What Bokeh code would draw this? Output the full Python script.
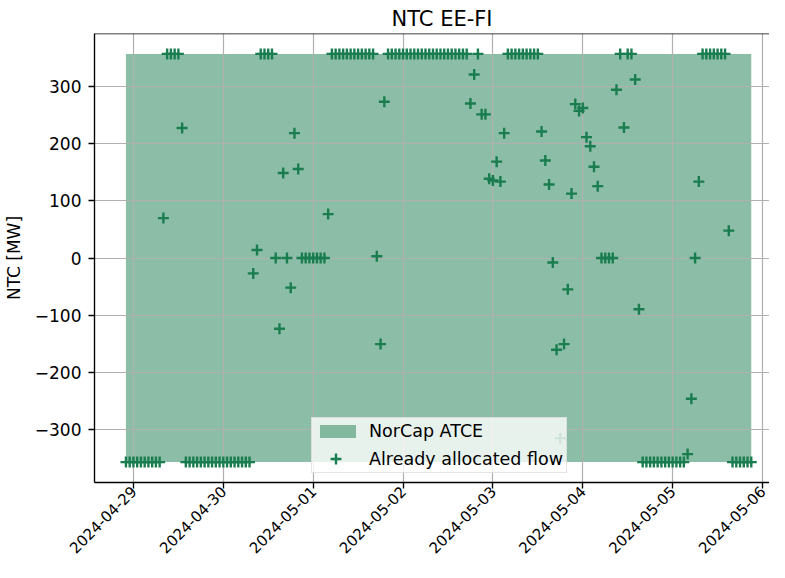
import math
import pandas as pd
from bokeh.plotting import figure
from bokeh.models import (Range1d, FixedTicker, DatetimeTickFormatter, Legend,
                          LegendItem, Span, ColumnDataSource)
from bokeh.embed import file_html
from bokeh.resources import INLINE

# ---------------- data ----------------
first_hour = "2024-04-28 22:00"
n_hours = 168
atce_upper = 358
atce_lower = -358
flow = [
    -358, -358, -358, -358, -358, -358, -358, -358, -358, -358,
    70, 358, 358, 358, 358, 228,
    -358, -358, -358, -358, -358, -358, -358, -358, -358, -358,
    -358, -358, -358, -358, -358, -358, -358, -358,
    -27, 14, 358, 358, 358, 358,
    0, -124, 149, 0, -52, 219, 156,
    0, 0, 0, 0, 0, 0, 0,
    77,
    358, 358, 358, 358, 358, 358, 358, 358, 358, 358, 358, 358,
    3, -151, 274,
    358, 358, 358, 358, 358, 358, 358, 358, 358, 358, 358,
    358, 358, 358, 358, 358, 358, 358, 358, 358, 358, 358,
    271, 322, 358, 252, 252, 139, 136, 169, 134, 219,
    358, 358, 358, 358, 358, 358, 358, 358, 358,
    222, 171, 129, -8, -161, -316, -151, -55, 113, 270, 258, 263,
    212, 196, 160, 126,
    0, 0, 0, 0,
    295, 358, 229, 358, 358, 313, -90,
    -358, -358, -358, -358, -358, -358, -358, -358, -358, -358, -358, -358,
    -344, -247, 0, 134,
    358, 358, 358, 358, 358, 358, 358,
    48,
    -358, -358, -358, -358, -358, -358,
]
x_tick_dates = ["2024-04-29", "2024-04-30", "2024-05-01", "2024-05-02",
                "2024-05-03", "2024-05-04", "2024-05-05", "2024-05-06"]
y_ticks = [-300, -200, -100, 0, 100, 200, 300]

title_text = "NTC EE-FI"
y_label = "NTC [MW]"
atce_name = "NorCap ATCE"
flow_name = "Already allocated flow"

# ---------------- build ----------------
t0 = pd.Timestamp(first_hour)
times = pd.date_range(t0, periods=n_hours, freq="h")
src = ColumnDataSource(dict(
    t=times,
    flow=flow,
    up=[atce_upper] * n_hours,
    lo=[atce_lower] * n_hours,
))

HOUR = pd.Timedelta(hours=1)
span_data = atce_upper - atce_lower
ymin = atce_lower - 0.05 * span_data
ymax = atce_upper + 0.05 * span_data
x_start = t0 - 8.40 * HOUR
x_end = t0 + 171.87 * HOUR

def ms(ts):
    return ts.value / 1e6

GREEN = "#1a7d50"
FONT = "DejaVu Sans"

p = figure(width=769, height=562, x_axis_type="datetime",
           x_range=Range1d(ms(x_start), ms(x_end)), y_range=Range1d(ymin, ymax),
           output_backend="svg", toolbar_location=None,
           min_border_left=94, min_border_right=0, min_border_top=33,
           min_border_bottom=80)
p.outline_line_color = None
p.background_fill_color = "white"
p.border_fill_color = "white"

p.title.text = title_text
p.title.align = "left"
p.title.text_font = FONT
p.title.text_font_size = "21px"
p.title.text_font_style = "normal"
p.title.text_color = "black"
p.title.standoff = 6
p.title.offset = 297

area = p.varea(x="t", y1="lo", y2="up", source=src, fill_color=GREEN,
               fill_alpha=0.5, level="image")
pts = p.scatter(x="t", y="flow", source=src, marker="cross", size=11,
                line_width=2.4, line_color=GREEN)
# invisible stand-in that reserves the marker row inside the framed legend
ghost = p.scatter(x=[], y=[], marker="cross", line_alpha=0, fill_alpha=0)

for g in (p.xgrid, p.ygrid):
    g.grid_line_color = "#b0b0b0"
    g.grid_line_width = 1.2

tick_ms = [ms(pd.Timestamp(d)) for d in x_tick_dates]
p.xaxis.ticker = FixedTicker(ticks=tick_ms)
p.xaxis.formatter = DatetimeTickFormatter(days="%Y-%m-%d", months="%Y-%m-%d",
                                          hours="%Y-%m-%d", years="%Y-%m-%d")
p.xaxis.major_label_orientation = math.pi / 4
p.yaxis.ticker = FixedTicker(ticks=y_ticks)
p.yaxis.major_label_overrides = {v: (str(v).replace("-", "\u2212")) for v in y_ticks}
p.yaxis.axis_label = y_label

for ax in (p.xaxis[0], p.yaxis[0]):
    ax.axis_line_color = "black"
    ax.axis_line_width = 1.36
    ax.major_tick_line_color = "black"
    ax.major_tick_line_width = 1.36
    ax.major_tick_out = 6
    ax.major_tick_in = 0
    ax.minor_tick_line_color = None
    ax.major_label_text_font = FONT
    ax.major_label_text_color = "black"
    ax.axis_label_text_font = FONT
    ax.axis_label_text_font_size = "17px"
    ax.axis_label_text_font_style = "normal"
    ax.axis_label_text_color = "black"
p.yaxis.major_label_text_font_size = "17px"
p.xaxis.major_label_text_font_size = "15px"
p.yaxis.major_label_standoff = 7
p.yaxis.axis_label_standoff = 8
p.xaxis.major_label_standoff = 0

# top spine
p.add_layout(Span(location=ymax, dimension="width", line_color="black",
                  line_width=1.36))

legend = Legend(items=[LegendItem(label=atce_name, renderers=[area]),
                       LegendItem(label=flow_name, renderers=[ghost])],
                location=(217, 9), margin=0, padding=3, spacing=8,
                glyph_width=45, glyph_height=16, label_height=20,
                label_standoff=9, label_text_font=FONT,
                label_text_font_size="17.5px", label_text_color="black",
                background_fill_color="white", background_fill_alpha=0.8,
                border_line_color="#cccccc", border_line_width=1.36)
p.add_layout(legend, "center")

# second, frameless key that only draws the full-size marker symbol
marker_key = Legend(items=[LegendItem(label="", renderers=[pts])],
                    location=(219, 10), margin=0, padding=0, spacing=0,
                    glyph_width=45, glyph_height=27, label_height=20,
                    label_standoff=0, label_text_font_size="1px",
                    background_fill_alpha=0, border_line_alpha=0)
p.add_layout(marker_key, "center")

open("out.html", "w").write(file_html(p, INLINE))
